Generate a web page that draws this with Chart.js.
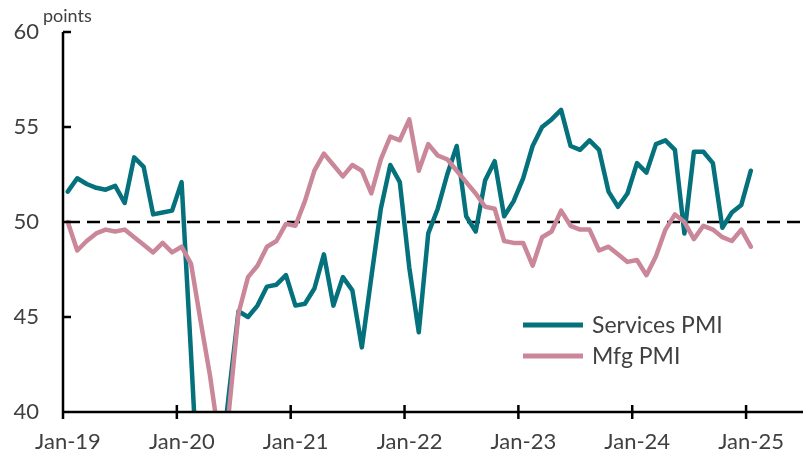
<!DOCTYPE html>
<html>
<head>
<meta charset="utf-8">
<script src="https://cdn.jsdelivr.net/npm/chart.js@4/dist/chart.umd.min.js"></script>
<style>
  html, body { margin: 0; padding: 0; background: #fff; }
  #wrap { width: 808px; height: 458px; }
</style>
</head>
<body>
<div id="wrap"><canvas id="chart"></canvas></div>
<script>
// monthly, Jan-19 .. Jan-25
const monthNames = ['Jan', 'Feb', 'Mar', 'Apr', 'May', 'Jun', 'Jul', 'Aug', 'Sep', 'Oct', 'Nov', 'Dec'];
const years = ['19', '20', '21', '22', '23', '24', '25'];
const months = years.flatMap(y => monthNames.map(m => m + '-' + y)).slice(0, 73);

const tickLabels = ['Jan-19', 'Jan-20', 'Jan-21', 'Jan-22', 'Jan-23', 'Jan-24', 'Jan-25'];
const yTicks = [40, 45, 50, 55, 60];
const neutralLevel = 50;

const servicesPMI = [
    51.6, 52.3, 52.0, 51.8, 51.7, 51.9, 51.0, 53.4, 52.9, 50.4, 50.5, 50.6,
    52.1, 43.0, 33.5, 25.0, 36.5, 41.0, 45.3, 45.0, 45.6, 46.6, 46.7, 47.2,
    45.6, 45.7, 46.5, 48.3, 45.6, 47.1, 46.4, 43.4, 47.1, 50.7, 53.0, 52.1,
    47.6, 44.2, 49.4, 50.7, 52.5, 54.0, 50.3, 49.5, 52.2, 53.2, 50.3, 51.1,
    52.3, 54.0, 55.0, 55.4, 55.9, 54.0, 53.8, 54.3, 53.8, 51.6, 50.8, 51.5,
    53.1, 52.6, 54.1, 54.3, 53.8, 49.4, 53.7, 53.7, 53.1, 49.7, 50.5, 50.9,
    52.7
];
const mfgPMI = [
    50.0, 48.5, 49.0, 49.4, 49.6, 49.5, 49.6, 49.2, 48.8, 48.4, 48.9, 48.4,
    48.7, 47.8, 44.8, 41.9, 38.4, 40.1, 45.2, 47.1, 47.7, 48.7, 49.0, 49.9,
    49.8, 51.1, 52.7, 53.6, 53.0, 52.4, 53.0, 52.7, 51.5, 53.3, 54.5, 54.3,
    55.4, 52.7, 54.1, 53.5, 53.3, 52.7, 52.1, 51.5, 50.8, 50.7, 49.0, 48.9,
    48.9, 47.7, 49.2, 49.5, 50.6, 49.8, 49.6, 49.6, 48.5, 48.7, 48.3, 47.9,
    48.0, 47.2, 48.2, 49.6, 50.4, 50.0, 49.1, 49.8, 49.6, 49.2, 49.0, 49.6,
    48.7
];

const TEAL = '#04717C';
const PINK = '#C98799';
const TEXT = '#404040';
const FONT = 'Lato, "Open Sans", sans-serif';

// plot each month in the middle of its slot on the date axis
const toPoints = vals => vals.map((v, i) => ({ x: i + 0.5, y: v, month: months[i] }));

const axesPlugin = {
    id: 'axesPlugin',
    beforeDatasetsDraw(chart) {
        const { ctx, chartArea, scales } = chart;
        const yy = scales.y.getPixelForValue(neutralLevel);
        ctx.save();
        ctx.strokeStyle = '#000';
        ctx.lineWidth = 2.5;
        ctx.setLineDash([13, 7]);
        ctx.beginPath();
        ctx.moveTo(chartArea.left + 4, yy);
        ctx.lineTo(chartArea.right, yy);
        ctx.stroke();
        ctx.restore();
    },
    afterDatasetsDraw(chart) {
        const { ctx, chartArea, scales } = chart;
        const { left, right, top, bottom } = chartArea;
        ctx.save();
        ctx.strokeStyle = '#000';
        ctx.lineWidth = 2.5;
        ctx.beginPath();
        ctx.moveTo(left, top);
        ctx.lineTo(left, bottom);
        ctx.moveTo(left - 1.25, bottom);
        ctx.lineTo(right, bottom);
        scales.y.ticks.forEach(t => {
            const p = scales.y.getPixelForValue(t.value);
            ctx.moveTo(left, p);
            ctx.lineTo(left + 8, p);
        });
        scales.x.ticks.forEach(t => {
            const p = scales.x.getPixelForValue(t.value);
            ctx.moveTo(p, bottom - 7);
            ctx.lineTo(p, bottom + 7);
        });
        ctx.stroke();

        // unit label
        ctx.fillStyle = TEXT;
        ctx.font = '18px ' + FONT;
        ctx.textAlign = 'left';
        ctx.textBaseline = 'alphabetic';
        ctx.fillText('points', 43, 22);

        // legend
        const entries = [chart.data.datasets[0], chart.data.datasets[1]];
        ctx.font = '23px ' + FONT;
        ctx.textBaseline = 'middle';
        entries.forEach((ds, k) => {
            const yy = 325 + k * 31;
            ctx.strokeStyle = ds.borderColor;
            ctx.lineWidth = 5;
            ctx.beginPath();
            ctx.moveTo(523, yy);
            ctx.lineTo(583, yy);
            ctx.stroke();
            ctx.fillStyle = TEXT;
            ctx.fillText(ds.label, 592, yy + 1);
        });
        ctx.restore();
    }
};

new Chart(document.getElementById('chart'), {
    type: 'line',
    data: {
        datasets: [{
            label: 'Services PMI',
            data: toPoints(servicesPMI),
            borderColor: TEAL,
            borderWidth: 4.5,
            order: 2
        }, {
            label: 'Mfg PMI',
            data: toPoints(mfgPMI),
            borderColor: PINK,
            borderWidth: 4.5,
            order: 1
        }]
    },
    options: {
        responsive: true,
        maintainAspectRatio: false,
        animation: false,
        devicePixelRatio: 1,
        layout: { padding: { top: 32, right: 5, left: 0, bottom: 0 } },
        elements: {
            point: { radius: 0 },
            line: { tension: 0, borderJoinStyle: 'round', borderCapStyle: 'round' }
        },
        datasets: { line: { clip: 0 } },
        plugins: {
            legend: { display: false },
            tooltip: { enabled: false }
        },
        scales: {
            x: {
                type: 'linear',
                min: 0,
                max: 78,
                border: { display: false },
                grid: { display: false, drawTicks: false },
                afterFit: s => { s.height = 46; s.paddingLeft = 0; s.paddingRight = 0; },
                ticks: {
                    stepSize: 12,
                    includeBounds: false,
                    autoSkip: false,
                    maxRotation: 0,
                    padding: 17,
                    labelOffset: 5,
                    color: TEXT,
                    font: { family: FONT, size: 22 },
                    callback: v => tickLabels[v / 12] || ''
                }
            },
            y: {
                min: 40,
                max: 60,
                border: { display: false },
                grid: { display: false, drawTicks: false },
                afterFit: s => { s.width = 63; s.paddingTop = 0; s.paddingBottom = 0; },
                afterBuildTicks: s => { s.ticks = yTicks.map(v => ({ value: v })); },
                ticks: {
                    padding: 24,
                    color: TEXT,
                    font: { family: FONT, size: 22 }
                }
            }
        }
    },
    plugins: [axesPlugin]
});
</script>
</body>
</html>
